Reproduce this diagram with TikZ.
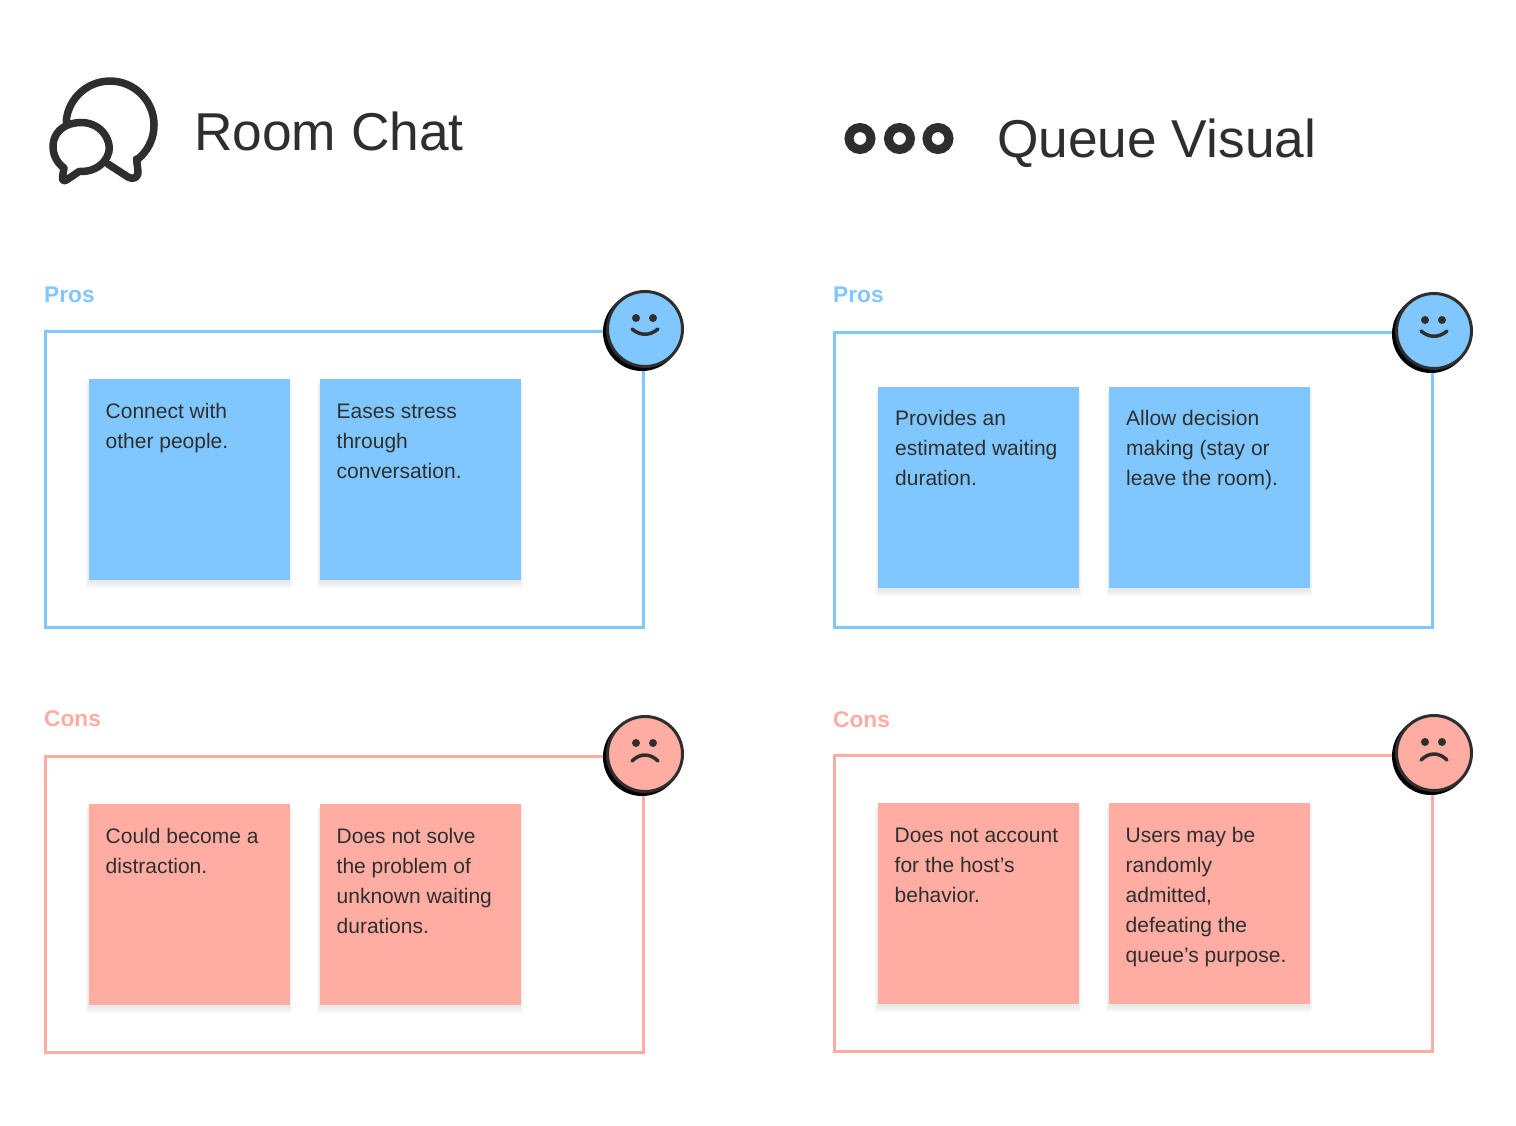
\documentclass[tikz,border=0pt]{standalone}
\usepackage{fontspec}
\setmainfont{Liberation Sans}
\definecolor{blu}{HTML}{80C7FF}
\definecolor{rd}{HTML}{FFADA3}
\definecolor{ink}{HTML}{2E2E2E}
\tikzset{
  frame/.style={draw=#1,line width=3pt,fill=none,rectangle,inner sep=0pt,anchor=north west},
  notebox/.style={fill=#1,rectangle,inner sep=0pt,minimum width=201pt,minimum height=201pt,anchor=north west},
  notetext/.style={anchor=north west,inner sep=0pt,align=left,text=ink,font=\fontsize{21}{30}\selectfont,xshift=17pt,yshift=-23pt},
  head/.style={anchor=west,inner sep=0pt,text=#1,font=\fontsize{22.7}{28}\selectfont\bfseries},
  title/.style={anchor=west,inner sep=0pt,text=ink,font=\fontsize{53.3}{60}\selectfont},
  iconline/.style={draw=ink,line width=7.5pt,line join=round,line cap=round},
  mouth/.style={draw=ink,line width=3.5pt,line cap=round},
}
\newcommand{\stickynote}[5]{%
  \foreach \s in {1,...,7}{\fill[black,opacity=0.01] (#2-\s*0.35,#3+4) rectangle (#2+201+\s*0.35,#3+201+2+\s*1.0);}
  \node[notebox=#4] (#1) at (#2,#3) {};
  \node[notetext] (#1t) at (#1.north west) {\rule{0pt}{16pt}#5};
}
\newcommand{\faceplate}[4]{%
  \fill[black] (#2-3,#3+3) circle[radius=39pt];
  \node[circle,fill=#4,draw=ink,line width=3pt,minimum size=75pt,inner sep=0pt] (#1) at (#2,#3) {};
  \fill[ink] (#2-9,#3-11) circle[radius=4pt] (#2+8,#3-11) circle[radius=4pt];
}
\begin{document}
\begin{tikzpicture}[x=1pt,y=-1pt]
\useasboundingbox (0,0) rectangle (1516,1125);
\fill[white] (0,0) rectangle (1516,1125);

% Room chat icon
\draw[iconline] (66.2,121.2) arc[start angle=175,end angle=-50,radius=44pt]
  -- (136.5,159) -- (138,171) .. controls (138.5,178) and (133,180) .. (128,177) -- (108,164);
\draw[iconline] (64,168) .. controls (46,155) and (49,123) .. (81,122.5)
  .. controls (104,122.5) and (114,145) .. (107,157) .. controls (101,168) and (90,172) .. (79,171.5)
  -- (68,179) .. controls (64,182) and (62,181) .. (62.5,177) -- (64,168);
\node[title] (t1) at (194,131) {Room Chat};

% Queue icon
\foreach \n/\cx in {a/860,b/899.5,c/938}{
  \node[circle,draw=ink,line width=9pt,fill=white,minimum size=22pt,inner sep=0pt] (dot\n) at (\cx,138.5) {};
}
\node[title] (t2) at (997,143) {Queue Visual};

% Headings
\node[head=blu] (h1) at (44,295) {Pros};
\node[head=blu] (h2) at (833,295) {Pros};
\node[head=rd] (h3) at (44,719) {Cons};
\node[head=rd] (h4) at (833,720) {Cons};

% Frames
\node[frame=blu,minimum width=598pt,minimum height=296pt] (f1) at (43.5,329.5) {};
\node[frame=blu,minimum width=598pt,minimum height=295.5pt] (f2) at (832.5,330.5) {};
\node[frame=rd,minimum width=598pt,minimum height=296pt] (f3) at (43.5,754.5) {};
\node[frame=rd,minimum width=598pt,minimum height=296.5pt] (f4) at (832.5,753.5) {};

% Notes
\stickynote{n1}{88.5}{379}{blu}{Connect with\\other people.}
\stickynote{n2}{319.5}{379}{blu}{Eases stress\\through\\conversation.}
\stickynote{n3}{878}{386.5}{blu}{Provides an\\estimated waiting\\duration.}
\stickynote{n4}{1109}{386.5}{blu}{Allow decision\\making (stay or\\leave the room).}
\stickynote{n5}{88.5}{804}{rd}{Could become a\\distraction.}
\stickynote{n6}{319.5}{804}{rd}{Does not solve\\the problem of\\unknown waiting\\durations.}
\stickynote{n7}{877.5}{803}{rd}{Does not account\\for the host’s\\behavior.}
\stickynote{n8}{1108.5}{803}{rd}{Users may be\\randomly\\admitted,\\defeating the\\queue’s purpose.}

% Faces
\faceplate{s1}{645}{329}{blu}
\draw[mouth] (632,329) .. controls (640,336) and (650,336) .. (658,329);
\faceplate{s2}{1434}{331}{blu}
\draw[mouth] (1421,331) .. controls (1429,338) and (1439,338) .. (1447,331);
\faceplate{s3}{645}{754}{rd}
\draw[mouth] (632,761) .. controls (640,753) and (650,753) .. (658,761);
\faceplate{s4}{1434}{753}{rd}
\draw[mouth] (1421,760) .. controls (1429,752) and (1439,752) .. (1447,760);
\end{tikzpicture}
\end{document}
